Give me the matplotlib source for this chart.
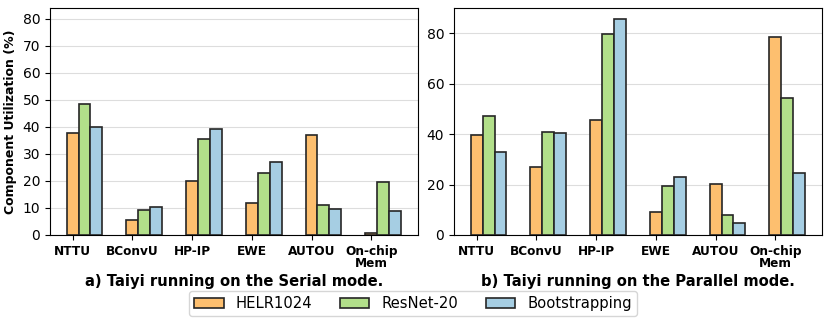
import numpy as np
import matplotlib.pyplot as plt

categories = ['NTTU', 'BConvU', 'HP-IP', 'EWE', 'AUTOU', 'On-chip\nMem']
series = ['HELR1024', 'ResNet-20', 'Bootstrapping']
colors = ['#fdbf6f', '#b2df8a', '#a6cee3']

serial_helr = [37.7, 5.4, 20.0, 11.7, 37.2, 0.7]
serial_resnet = [48.6, 9.2, 35.4, 22.9, 11.1, 19.7]
serial_boot = [39.8, 10.4, 39.3, 27.1, 9.7, 9.0]

parallel_helr = [39.5, 26.9, 45.5, 9.3, 20.3, 78.5]
parallel_resnet = [47.2, 40.9, 79.9, 19.6, 8.1, 54.3]
parallel_boot = [32.8, 40.5, 85.8, 23.1, 4.6, 24.7]

fig, axs = plt.subplots(1, 2, figsize=(8.31, 3.25), dpi=100)
fig.subplots_adjust(left=0.060, right=0.989, top=0.975, bottom=0.277, wspace=0.098)

x = np.arange(len(categories))
w = 0.2

panels = [
    (axs[0], [serial_helr, serial_resnet, serial_boot], 'a) Taiyi running on the Serial mode.',
     (0, 84), np.arange(0, 81, 10)),
    (axs[1], [parallel_helr, parallel_resnet, parallel_boot], 'b) Taiyi running on the Parallel mode.',
     (0, 90), np.arange(0, 81, 20)),
]

for ax, vals, title, ylim, yticks in panels:
    for j, v in enumerate(vals):
        ax.bar(x + j * w, v, w, color=colors[j], edgecolor='#262626', linewidth=1.2,
               label=series[j], zorder=3)
    ax.set_xticks(x)
    ax.set_xticklabels(categories, fontweight='bold', fontsize=8.7, linespacing=0.95)
    ax.set_ylim(*ylim)
    ax.set_yticks(yticks)
    ax.tick_params(axis='y', labelsize=10)
    ax.grid(axis='y', color='#dddddd', linewidth=0.8, zorder=0)
    ax.set_axisbelow(True)
    ax.set_xlabel(title, fontweight='bold', fontsize=10.6, labelpad=3)

axs[0].set_ylabel('Component Utilization (%)', fontweight='bold', fontsize=9)

handles, labels = axs[0].get_legend_handles_labels()
fig.legend(handles, labels, loc='lower center', bbox_to_anchor=(0.497, 0.005), ncol=3,
           fontsize=10.6, handlelength=2.0, handletextpad=0.8, columnspacing=1.9,
           borderpad=0.35, frameon=True)

fig.savefig('out.png', dpi=100)
